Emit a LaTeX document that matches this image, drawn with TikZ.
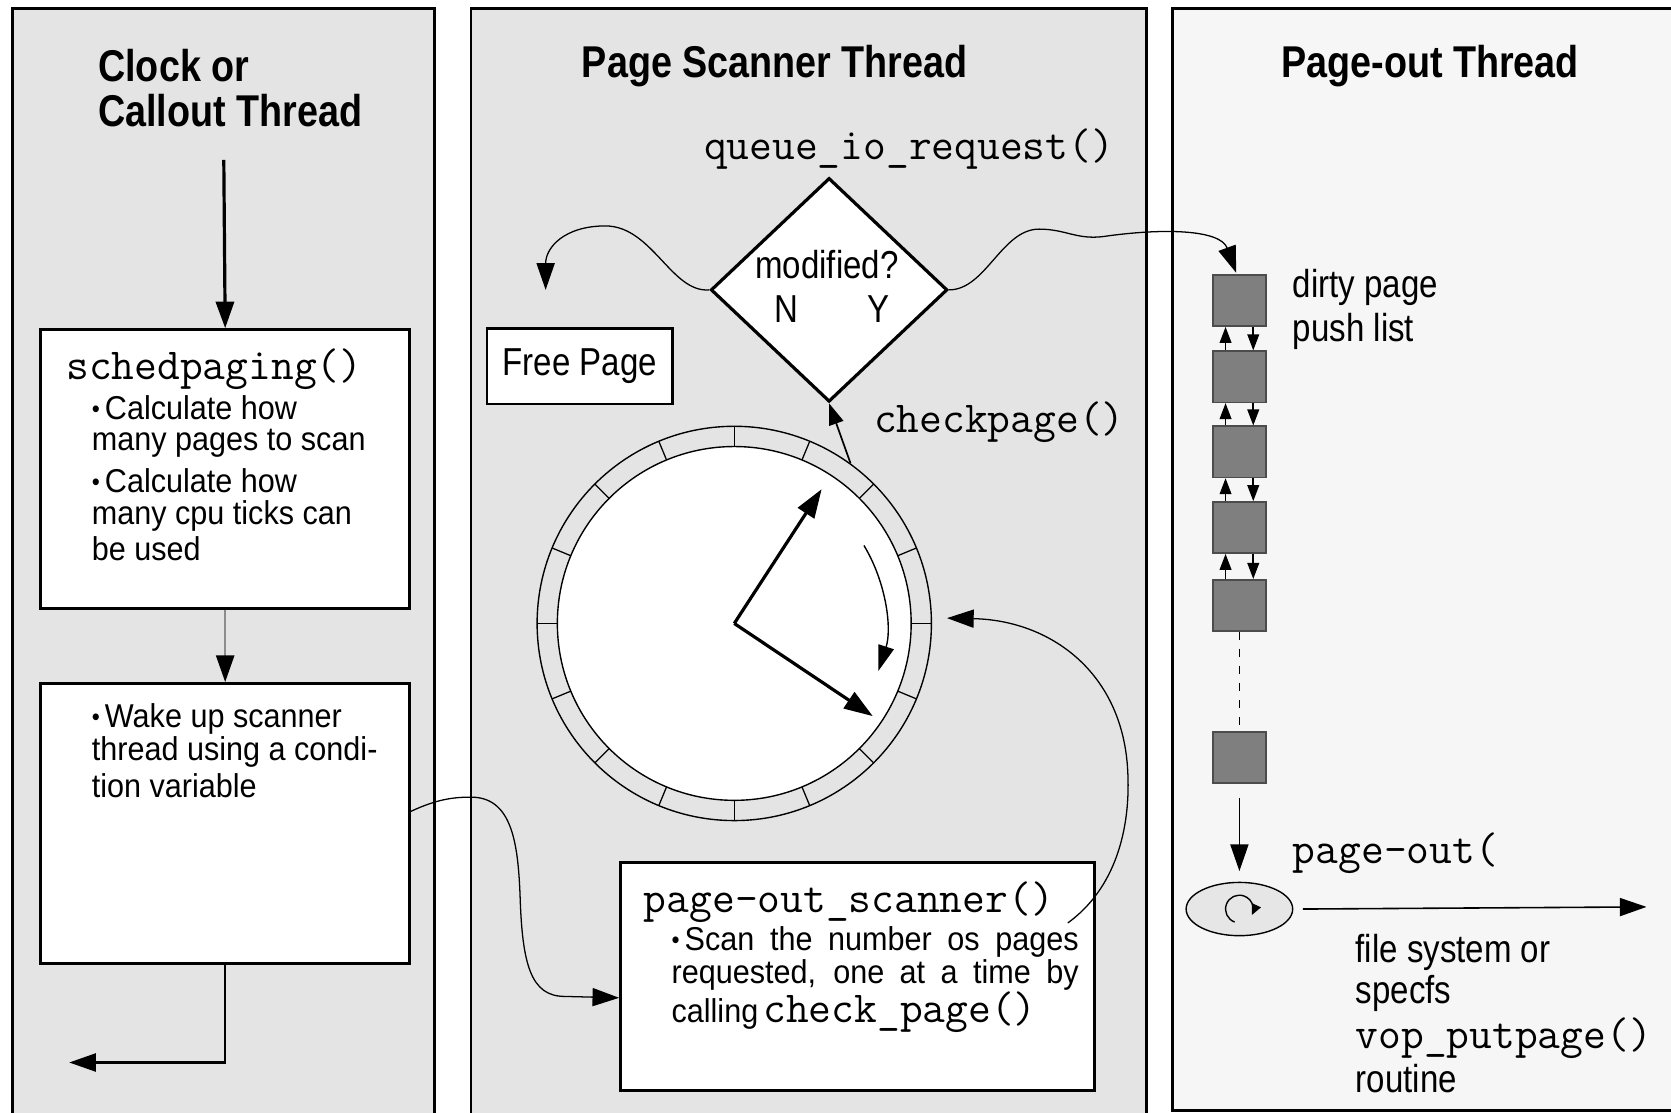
\documentclass[tikz,border=0pt]{standalone}
\usepackage{fontspec}
\usepackage{graphicx}
\setmainfont{Liberation Sans}
\usetikzlibrary{shapes.geometric,arrows.meta}
\definecolor{panelgray}{HTML}{E4E4E4}
\definecolor{panellight}{HTML}{F6F6F6}
\definecolor{pagegray}{HTML}{7F7F7F}
\definecolor{ellgray}{HTML}{E6E6E6}
\newcommand\vst[1]{\scalebox{1}[1.18]{#1}}
\newcommand\vsb[1]{\scalebox{1}[1.08]{#1}}
\newcommand\smbul{\raisebox{0.12ex}{\scalebox{0.75}{\textbullet}}}
\newcommand\codefont{\fontsize{41.5}{46}\selectfont\ttfamily}
\begin{document}
\begin{tikzpicture}[x=1pt,y=-1pt,
  panel/.style={draw=black,line width=2.6pt},
  title/.style={font=\fontsize{35.4}{42}\selectfont\bfseries,inner sep=0pt},
  lab/.style={font=\fontsize{31}{36}\selectfont,inner sep=0pt},
  btxt/.style={font=\fontsize{28.7}{31}\selectfont,inner sep=0pt,anchor=west},
  code/.style={font=\codefont,inner sep=0pt},
  boxw/.style={draw=black,line width=2.6pt,fill=white,anchor=north west,inner sep=0pt},
  arr/.style={-{Triangle[length=25pt,width=17pt]}},
  harr/.style={-{Triangle[length=27pt,width=18pt]}},
  sarr/.style={-{Triangle[length=24pt,width=15pt]}},
  thinline/.style={line width=1.2pt},
  pg/.style={draw=black!70,line width=1.5pt,fill=pagegray,minimum width=50pt,minimum height=48pt,inner sep=0pt},
  lnk/.style={-{Triangle[length=15pt,width=11pt]},line width=1.5pt},
]
\useasboundingbox (0,0) rectangle (1568,1044);
\clip (0,0) rectangle (1568,1044);
\fill[white] (0,0) rectangle (1568,1044);

% panels
\path[panel,fill=panelgray] (12,8) rectangle (408,1070);
\path[panel,fill=panelgray] (442,8) rectangle (1076,1070);
\path[panel,fill=panellight] (1100,8) rectangle (1590,1042);

% titles
\node[title,anchor=west] (t1a) at (92,62) {\vst{Clock or}};
\node[title,anchor=west] (t1b) at (92,104) {\vst{Callout Thread}};
\node[title] (t2) at (727,62) {\vst{Page Scanner Thread}};
\node[title] (t3) at (1342,62) {\vst{Page-out Thread}};

% left column
\coordinate (start) at (210,150);
\node[boxw,minimum width=346pt,minimum height=262pt] (sched) at (37,308) {};
\node[boxw,minimum width=346pt,minimum height=263pt] (wake) at (37,640) {};
\draw[arr,line width=3pt] (start) -- (sched.north);
\draw[-{Triangle[length=25pt,width=17pt,color=black]},line width=2pt,draw=black!45] (sched.south) -- (wake.north);
\coordinate (ret) at (65,997);
\draw[arr,line width=2pt] (wake.south) |- (ret);

\node[code,anchor=west] (sp) at (62,346) {schedpaging()};
\node[btxt] (s1) at (86,383) {\vsb{\smbul\,Calculate how}};
\node[btxt] (s2) at (86,416) {\vsb{many pages to scan}};
\node[btxt] (s3) at (86,451) {\vsb{\smbul\,Calculate how}};
\node[btxt] (s4) at (86,484) {\vsb{many cpu ticks can}};
\node[btxt] (s5) at (86,515) {\vsb{be used}};
\node[btxt] (w1) at (86,675) {\vsb{\smbul\,Wake up scanner}};
\node[btxt] (w2) at (86,706) {\vsb{thread using a condi-}};
\node[btxt] (w3) at (86,737) {\vsb{tion variable}};

% middle column
\node[code] (qio) at (853,140) {queue\_io\_request()};
\node[diamond,draw,line width=3pt,fill=white,minimum width=222pt,minimum height=210pt,inner sep=0pt] (dia) at (778,272) {};
\node[lab] (mod) at (776,248) {\vst{modified?}};
\node[lab] (nn) at (738,290) {\vst{N}};
\node[lab] (yy) at (824,290) {\vst{Y}};
\node[boxw,anchor=center,minimum width=174pt,minimum height=71pt,font=\fontsize{31}{36}\selectfont] (free) at (544,343.5) {\vst{Free Page}};
\node[code,anchor=west] (cp) at (820,396) {checkpage()};

% clock
\node[circle,draw,line width=1.3pt,minimum size=370pt,inner sep=0pt] (clock) at (689,585) {};
\node[circle,draw,line width=1.3pt,fill=white,minimum size=332pt,inner sep=0pt] (clockin) at (689,585) {};
\foreach \a in {0,22.5,...,337.5}
  \draw[line width=1.2pt] (clock.center) ++(\a:166pt) -- ++(\a:19pt);
\coordinate (h1) at (771,459);
\coordinate (h2) at (819,672);
\draw[harr,line width=3pt] (clock.center) -- (h1);
\draw[harr,line width=3pt] (clock.center) -- (h2);
\draw[sarr,line width=1.3pt] (clock.center) ++(31:142pt) arc[start angle=31,end angle=-18,radius=143pt];
\draw[-{Triangle[length=20pt,width=14pt]},line width=1.6pt] (clock.54) -- (dia.south);

% scanner box
\node[boxw,minimum width=445pt,minimum height=214pt] (scan) at (581,808) {};
\node[code,anchor=west] (ps) at (604,847) {page-out\_scanner()};
\node[btxt] (c1) at (630,884) {\vsb{\makebox[382pt][s]{\smbul\,Scan the number os pages}}};
\node[btxt] (c2) at (630,915) {\vsb{\makebox[382pt][s]{requested, one at a time by}}};
\node[btxt] (c3) at (630,950) {\vsb{calling}\,{\codefont check\_page()}};

% right column
\node[pg] (d1) at (1163,282) {};
\node[pg] (d2) at (1163,353.5) {};
\node[pg] (d3) at (1163,424) {};
\node[pg] (d4) at (1163,495) {};
\node[pg] (d5) at (1163,568) {};
\node[pg] (d6) at (1163,711) {};
\foreach \i/\j in {d1/d2,d2/d3,d3/d4,d4/d5}{
  \draw[lnk] ([xshift=-13pt]\j.north) -- ([xshift=-13pt]\i.south);
  \draw[lnk] ([xshift=13pt]\i.south) -- ([xshift=13pt]\j.north);
}
\draw[line width=1.5pt,dash pattern=on 8pt off 8pt] (d5.south) -- (d6.north);
\node[ellipse,draw,line width=1.3pt,fill=ellgray,minimum width=100pt,minimum height=50pt,inner sep=0pt] (el) at (1163,853) {};
\draw[arr,line width=1.3pt] ([yshift=-13pt]d6.south) -- ([yshift=10pt]el.north);
\draw[line width=1.3pt,-{Triangle[length=10pt,width=9pt]}] (el.center) ++(-110:13pt) arc[start angle=-110,end angle=-385,radius=13pt];
\coordinate (fs) at (1545,851);
\draw[arr,line width=1.5pt] ([xshift=9pt]el.east) -- (fs);

\node[lab,anchor=west] (dp1) at (1213,270) {\vst{dirty page}};
\node[lab,anchor=west] (dp2) at (1213,311) {\vst{push list}};
\node[code,anchor=west] (po) at (1213,801) {page-out(};
\node[lab,anchor=west] (f1) at (1272,894) {\vst{file system or}};
\node[lab,anchor=west] (f2) at (1272,932) {\vst{specfs}};
\node[code,anchor=west] (f3) at (1272,974) {vop\_putpage()};
\node[lab,anchor=west] (f4) at (1272,1012) {\vst{routine}};

% curved connectors
\coordinate (nend) at (512,272);
\draw[arr,thinline] (dia.west) .. controls (630,275) and (612,212) .. (568,212) .. controls (530,212) and (512,232) .. (nend);
\coordinate (yend) at (1160,256);
\draw[arr,thinline] (dia.east) .. controls (925,272) and (940,215) .. (975,215) .. controls (1000,215) and (1010,225) .. (1035,222) .. controls (1090,214) and (1145,215) .. (yend);
\draw[arr,thinline] ([yshift=11.5pt]wake.east) .. controls (410,750) and (425,748) .. (442,748) .. controls (480,748) and (486,790) .. (488,840) .. controls (490,905) and (498,935) .. (530,935) -- ([yshift=-20pt]scan.west);
\coordinate (sc) at (1002,866);
\draw[arr,thinline] (sc) .. controls (1045,835) and (1062,780) .. (1058,720) .. controls (1052,630) and (985,582) .. ([xshift=14pt,yshift=5pt]clock.east);
\end{tikzpicture}
\end{document}
